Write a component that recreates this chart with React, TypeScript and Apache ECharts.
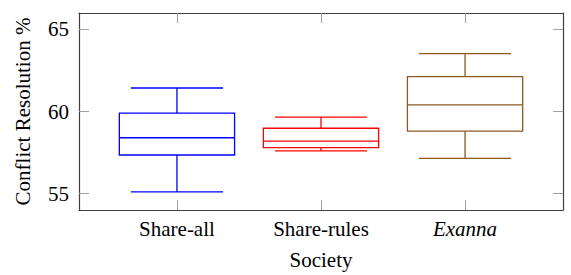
import React, { useEffect, useRef } from "react";
import * as echarts from "echarts";

const categories = ["Share-all", "Share-rules", "Exanna"];
const positions = [1, 2, 3];
const mins = [55.1, 57.6, 57.15];
const q1s = [57.35, 57.8, 58.8];
const medians = [58.4, 58.2, 60.4];
const q3s = [59.9, 58.98, 62.13];
const maxs = [61.43, 59.66, 63.53];
const colors = ["#0000ff", "#ff0000", "#8a5a24"];
const yTicks = [55, 60, 65];

const FONT = "Liberation Serif";

export default function App() {
  const ref = useRef<HTMLDivElement>(null);
  useEffect(() => {
    const chart = echarts.init(ref.current!, null, { renderer: "svg" });
    const data = positions.map((p, i) => [p, mins[i], q1s[i], medians[i], q3s[i], maxs[i]]);
    const frameColor = "#404040";
    const tickColor = "#a0a0a0";
    const labelStyle = { fontFamily: FONT, fontSize: 21, color: "#000" };
    chart.setOption({
      animation: false,
      grid: { left: 79, top: 13, right: 8, bottom: 62, containLabel: false },
      xAxis: [
        {
          type: "value",
          min: 0.32,
          max: 3.68,
          position: "bottom",
          name: "Society",
          nameLocation: "middle",
          nameGap: 39,
          nameTextStyle: { ...labelStyle },
          axisLine: { show: true, onZero: false, lineStyle: { color: frameColor, width: 1.2 } },
          axisTick: { show: true, inside: true, length: 10, customValues: positions, lineStyle: { color: tickColor } },
          axisLabel: {
            show: true,
            margin: 8,
            customValues: positions,
            ...labelStyle,
            formatter: (v: number) => {
              const i = positions.indexOf(v);
              if (i < 0) return "";
              return i === 2 ? "{it|" + categories[i] + "}" : categories[i];
            },
            rich: { it: { fontFamily: FONT, fontSize: 21, fontStyle: "italic", color: "#000" } },
          },
          splitLine: { show: false },
        },
        {
          type: "value",
          min: 0.32,
          max: 3.68,
          position: "top",
          axisLine: { show: true, onZero: false, lineStyle: { color: frameColor, width: 1.2 } },
          axisTick: { show: true, inside: true, length: 10, customValues: positions, lineStyle: { color: tickColor } },
          axisLabel: { show: false },
          splitLine: { show: false },
        },
      ],
      yAxis: [
        {
          type: "value",
          min: 54,
          max: 66,
          position: "left",
          name: "Conflict Resolution %",
          nameLocation: "middle",
          nameGap: 46,
          nameTextStyle: { ...labelStyle },
          axisLine: { show: true, onZero: false, lineStyle: { color: frameColor, width: 1.2 } },
          axisTick: { show: true, inside: true, length: 10, customValues: yTicks, lineStyle: { color: tickColor } },
          axisLabel: { show: true, margin: 10, customValues: yTicks, ...labelStyle },
          splitLine: { show: false },
        },
        {
          type: "value",
          min: 54,
          max: 66,
          position: "right",
          axisLine: { show: true, onZero: false, lineStyle: { color: frameColor, width: 1.2 } },
          axisTick: { show: true, inside: true, length: 10, customValues: yTicks, lineStyle: { color: tickColor } },
          axisLabel: { show: false },
          splitLine: { show: false },
        },
      ],
      series: [
        {
          type: "custom",
          xAxisIndex: 0,
          yAxisIndex: 0,
          data,
          encode: { x: 0, y: [1, 2, 3, 4, 5] },
          renderItem: (params: any, api: any) => {
            const x = api.value(0);
            const mn = api.value(1);
            const q1 = api.value(2);
            const md = api.value(3);
            const q3 = api.value(4);
            const mx = api.value(5);
            const color = colors[params.dataIndex];
            const bh = 0.4;
            const wh = 0.32;
            const pTL = api.coord([x - bh, q3]);
            const pBR = api.coord([x + bh, q1]);
            const style = { stroke: color, lineWidth: 1.3, fill: "none" };
            const line = (a: number[], b: number[]) => ({
              type: "line",
              shape: { x1: a[0], y1: a[1], x2: b[0], y2: b[1] },
              style,
            });
            return {
              type: "group",
              children: [
                {
                  type: "rect",
                  shape: { x: pTL[0], y: pTL[1], width: pBR[0] - pTL[0], height: pBR[1] - pTL[1] },
                  style: { stroke: color, lineWidth: 1.3, fill: "none" },
                },
                line(api.coord([x - bh, md]), api.coord([x + bh, md])),
                line(api.coord([x, q3]), api.coord([x, mx])),
                line(api.coord([x, q1]), api.coord([x, mn])),
                line(api.coord([x - wh, mx]), api.coord([x + wh, mx])),
                line(api.coord([x - wh, mn]), api.coord([x + wh, mn])),
              ],
            };
          },
        },
      ],
    });
    return () => chart.dispose();
  }, []);
  return <div ref={ref} style={{ width: 571, height: 275, position: "absolute", left: 0, top: 0 }} />;
}
